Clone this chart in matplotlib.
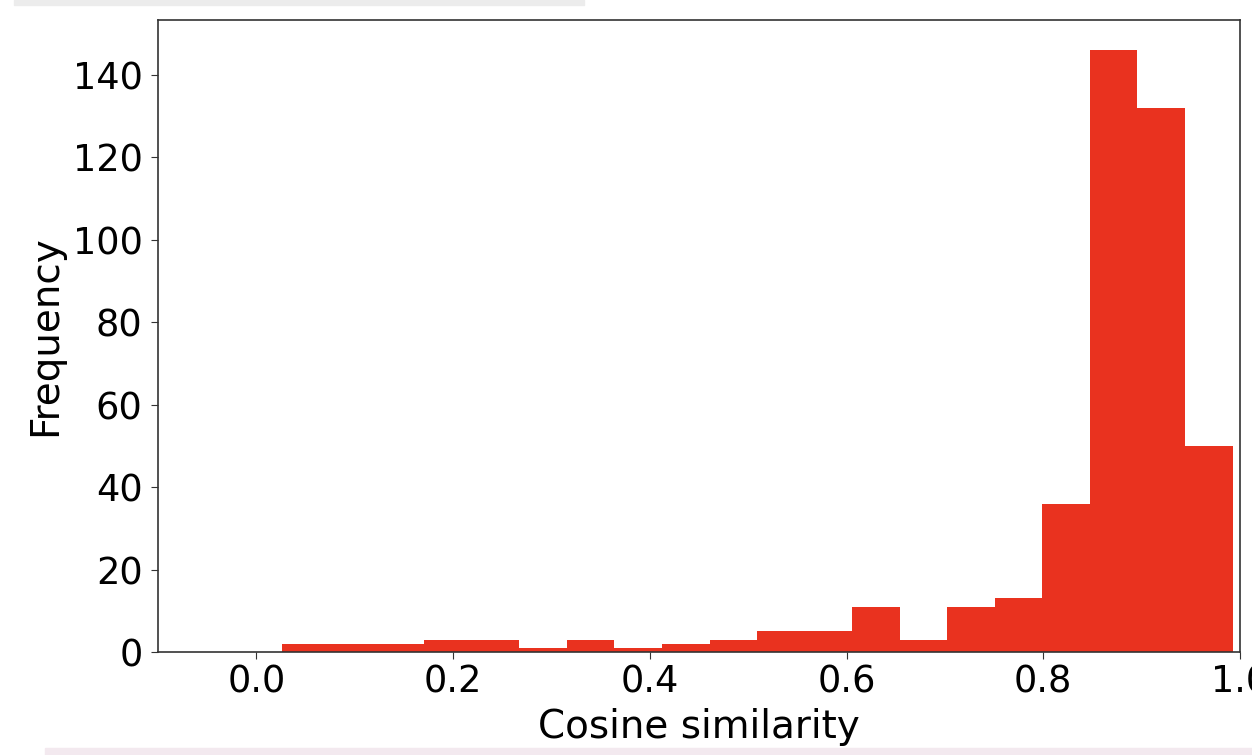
import numpy as np
import matplotlib
matplotlib.use("Agg")
import matplotlib.pyplot as plt
from matplotlib.patches import Rectangle

# Histogram counts (20 equal bins)
counts = [2, 2, 2, 3, 3, 1, 3, 1, 2, 3, 5, 5, 11, 3, 11, 13, 36, 146, 132, 50]
range_min = 0.0257
range_max = 0.9924
xticks = [0.0, 0.2, 0.4, 0.6, 0.8, 1.0]
yticks = [0, 20, 40, 60, 80, 100, 120, 140]

edges = np.linspace(range_min, range_max, len(counts) + 1)
centers = (edges[:-1] + edges[1:]) / 2

fig = plt.figure(figsize=(12.52, 7.55), dpi=100)
ax = fig.add_axes([158 / 1252, 1 - 652 / 755, (1240 - 158) / 1252, (652 - 20) / 755])

ax.hist(centers, bins=edges, weights=counts, color="#e9321f")
ax.set_xlim(-0.1, 1.0)
ax.set_xticks(xticks)
ax.set_yticks(yticks)
ax.tick_params(labelsize=26.5, length=5, color="#333333")
ax.tick_params(axis="x", pad=3)
ax.tick_params(axis="y", pad=6)
ax.set_xlabel("Cosine similarity", fontsize=28, labelpad=6)
ax.set_ylabel("Frequency", fontsize=28, labelpad=6)
for s in ax.spines.values():
    s.set_color("#333333")
    s.set_linewidth(1.2)

# screenshot edge strips
fig.patches.append(Rectangle((14 / 1252, 1 - 5 / 755), 570 / 1252, 5 / 755,
                             transform=fig.transFigure, color="#ececec", zorder=0))
fig.patches.append(Rectangle((45 / 1252, 0), 1 - 45 / 1252, 7 / 755,
                             transform=fig.transFigure, color="#f3e9ef", zorder=0))

fig.savefig("out.png", dpi=100)
